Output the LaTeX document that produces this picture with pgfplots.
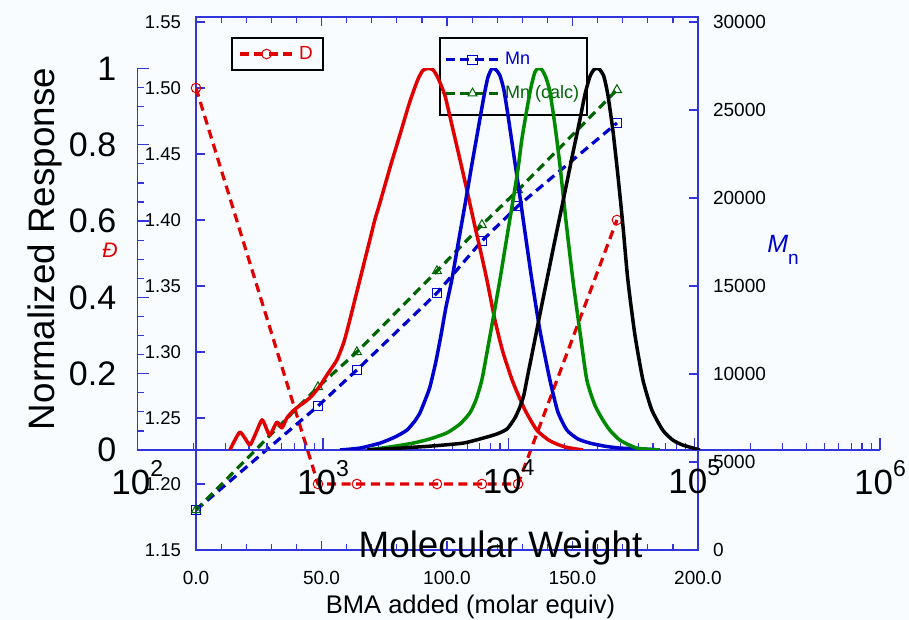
\documentclass[border=0pt]{standalone}
\usepackage{fontspec}
\setmainfont{Liberation Sans}
\usepackage{pgfplots}
\pgfplotsset{compat=1.18}
\pgfkeys{/pgf/number format/assume math mode=true}
\definecolor{bgc}{HTML}{F8FCFF}
\definecolor{axc}{HTML}{3434DC}
\definecolor{gred}{HTML}{E00000}
\definecolor{gblue}{HTML}{0000CC}
\definecolor{ggreen}{HTML}{008A00}
\definecolor{dgreen}{HTML}{006400}
\newcommand{\tenpow}[1]{10\raisebox{9pt}{\fontsize{11.5}{13}\selectfont #1}}

\pgfplotsset{
  frame/.style={axis line style={axc, line width=0.6pt}, every tick/.style={axc, line width=0.6pt},
    tick align=inside, major tick length=4.5pt, minor tick length=3pt, scaled ticks=false},
  leg/.style={legend image code/.code={\draw[mark repeat=2,mark phase=2,##1] plot coordinates {(0pt,0pt) (13.5pt,0pt) (27pt,0pt)};},
    legend cell align=left},
}

\begin{document}
\begin{tikzpicture}
\path[use as bounding box, fill=bgc] (0,0) rectangle (454.5pt,310pt);

% dispersity vs BMA added
\begin{axis}[frame, leg, at={(98pt,35pt)}, anchor=south west, scale only axis, width=251pt, height=266.5pt,
  xmin=0, xmax=200, ymin=1.15, ymax=1.55379,
  xtick={0,50,...,200}, minor x tick num=4, ytick={1.15,1.2,1.25,1.3,1.35,1.4,1.45,1.5,1.55}, ytick pos=left,
  xticklabel={\pgfmathprintnumber[fixed,fixed zerofill,precision=1]{\tick}},
  yticklabel={\pgfmathprintnumber[fixed,fixed zerofill,precision=2]{\tick}},
  x tick label style={font=\fontsize{9.5}{11}\selectfont, yshift=-7pt},
  y tick label style={font=\fontsize{9.25}{11}\selectfont, xshift=-4pt},
  legend style={at={(axis description cs:0.0697,0.9625)}, anchor=north west, draw=black, line width=1pt,
    fill=none, font=\fontsize{9.5}{11}\selectfont, inner xsep=3pt, inner ysep=2pt}]
\addplot[gred, line width=1.6pt, dash pattern=on 4.5pt off 2.8pt, mark=o, mark size=2.4pt,
  mark options={solid, line width=0.5pt}] coordinates {
  (0,1.50) (48.6,1.20) (64.1,1.20) (96.0,1.20) (113.9,1.20) (128.3,1.20) (167.7,1.40)};
\addlegendentry{\textcolor{gred}{D}}
\end{axis}

% Mn vs BMA added
\begin{axis}[frame, leg, at={(98pt,35pt)}, anchor=south west, scale only axis, width=251pt, height=266.5pt,
  xmin=0, xmax=200, ymin=0, ymax=30284, hide x axis, axis y line*=right,
  ytick={0,5000,...,30000},
  yticklabel={\pgfmathprintnumber[fixed,precision=0,1000 sep={}]{\tick}},
  y tick label style={font=\fontsize{9.5}{11}\selectfont, xshift=4pt},
  legend style={at={(axis description cs:0.484,0.9625)}, anchor=north west, draw=black, line width=1pt,
    fill=none, font=\fontsize{9}{11}\selectfont, inner xsep=2pt, inner ysep=5pt, row sep=5pt}]
\addplot[gblue, line width=1.6pt, dash pattern=on 4.5pt off 2.8pt, mark=square, mark size=2.3pt,
  mark options={solid, line width=0.5pt}] coordinates {
  (0,2270) (48.6,8180) (64.1,10230) (96.0,14600) (113.9,17560) (128.3,19550) (167.7,24260)};
\addlegendentry{\textcolor{gblue}{Mn}}
\addplot[dgreen, line width=1.6pt, dash pattern=on 4.5pt off 2.8pt, mark=triangle, mark size=2.6pt,
  mark options={solid, line width=0.5pt}] coordinates {
  (0,2270) (48.6,9260) (64.1,11250) (96.0,15850) (113.9,18470) (128.3,20450) (167.7,26140)};
\addlegendentry{\textcolor{dgreen}{Mn (calc)}}
\end{axis}

% GPC traces, x = log10(molecular weight)
\begin{axis}[frame, at={(68.625pt,85pt)}, anchor=south west, scale only axis, width=371.375pt, height=190.75pt,
  xmin=2, xmax=6, ymin=0, ymax=1, axis x line*=bottom, axis y line*=left,
  axis line style={-}, x axis line style={-}, y axis line style={-},
  xtick={2,3,4,5,6}, xticklabels={\tenpow{2},\tenpow{3},\tenpow{4},\tenpow{5},\tenpow{6}},
  minor xtick={2.301,2.477,2.602,2.699,2.778,2.845,2.903,2.954,
    3.301,3.477,3.602,3.699,3.778,3.845,3.903,3.954,
    4.301,4.477,4.602,4.699,4.778,4.845,4.903,4.954,
    5.301,5.477,5.602,5.699,5.778,5.845,5.903,5.954},
  ytick={0,0.2,0.4,0.6,0.8,1}, minor y tick num=3,
  major tick length=6pt, minor tick length=3.5pt,
  yticklabel={\pgfmathprintnumber{\tick}},
  x tick label style={font=\fontsize{17.5}{20}\selectfont, yshift=-1.5pt},
  y tick label style={font=\fontsize{17}{20}\selectfont, xshift=-7pt},
  every axis plot/.append style={line width=1.75pt, line join=round, smooth, tension=0.35}]
\addplot[gred] table[x=lgM, y=r] {
lgM r
2.499 0
2.526 0.026
2.553 0.047
2.580 0.031
2.607 0.013
2.634 0.039
2.672 0.079
2.699 0.052
2.715 0.039
2.752 0.073
2.779 0.058
2.806 0.084
2.838 0.102
2.871 0.115
2.903 0.126
2.941 0.142
2.984 0.168
3.022 0.197
3.075 0.236
3.113 0.283
3.145 0.341
3.172 0.394
3.199 0.446
3.226 0.499
3.253 0.551
3.280 0.604
3.307 0.648
3.361 0.740
3.415 0.827
3.468 0.913
3.511 0.971
3.538 0.995
3.565 1.000
3.592 0.997
3.619 0.976
3.657 0.929
3.694 0.853
3.738 0.761
3.775 0.682
3.813 0.598
3.845 0.530
3.883 0.446
3.926 0.341
3.969 0.257
4.023 0.178
4.088 0.105
4.152 0.052
4.222 0.024
4.303 0.008
4.400 0
};
\addplot[gblue] table[x=lgM, y=r] {
lgM r
3.092 0
3.199 0.005
3.307 0.018
3.388 0.034
3.452 0.052
3.495 0.076
3.522 0.097
3.549 0.129
3.576 0.165
3.608 0.231
3.635 0.299
3.662 0.373
3.694 0.446
3.727 0.538
3.765 0.643
3.802 0.748
3.840 0.853
3.867 0.927
3.888 0.976
3.910 1.000
3.931 0.997
3.953 0.982
3.974 0.945
3.996 0.879
4.034 0.753
4.061 0.664
4.093 0.554
4.125 0.446
4.168 0.315
4.222 0.184
4.265 0.100
4.314 0.052
4.373 0.029
4.438 0.018
4.518 0.010
4.599 0.005
4.707 0.003
4.814 0
};
\addplot[ggreen] table[x=lgM, y=r] {
lgM r
3.237 0
3.361 0.008
3.485 0.018
3.576 0.029
3.668 0.045
3.738 0.068
3.791 0.097
3.824 0.131
3.856 0.184
3.888 0.268
3.921 0.357
3.953 0.446
3.985 0.541
4.018 0.638
4.050 0.735
4.071 0.814
4.098 0.892
4.120 0.950
4.141 0.990
4.158 1.000
4.179 0.997
4.201 0.976
4.222 0.940
4.249 0.853
4.276 0.748
4.308 0.604
4.346 0.446
4.384 0.310
4.421 0.184
4.464 0.118
4.507 0.079
4.545 0.052
4.599 0.026
4.690 0.005
4.814 0
};
\addplot[black] table[x=lgM, y=r] {
lgM r
3.237 0
3.415 0.005
3.576 0.010
3.754 0.018
3.861 0.031
3.937 0.042
3.991 0.055
4.034 0.084
4.061 0.113
4.082 0.144
4.098 0.184
4.125 0.249
4.152 0.315
4.179 0.381
4.206 0.446
4.249 0.549
4.287 0.638
4.319 0.714
4.351 0.790
4.384 0.866
4.411 0.932
4.438 0.979
4.459 0.997
4.475 1.000
4.491 0.997
4.513 0.979
4.534 0.932
4.561 0.840
4.588 0.722
4.615 0.591
4.642 0.446
4.680 0.302
4.723 0.184
4.771 0.105
4.830 0.052
4.884 0.026
4.938 0.013
5.030 0
};
\end{axis}

\node[rotate=90, font=\fontsize{18.4}{21}\selectfont] at (22.5pt,185.5pt) {Normalized Response};
\node[anchor=base, font=\fontsize{18.4}{21}\selectfont] at (250.25pt,31pt) {Molecular Weight};
\node[anchor=base, font=\fontsize{12.75}{15}\selectfont] at (235.25pt,3pt) {BMA added (molar equiv)};
\node[gred, font=\fontsize{10.5}{12}\selectfont\itshape] at (55pt,185pt) {Đ};
\node[gblue, anchor=base west, inner sep=0pt] at (383.5pt,183.5pt)
  {{\fontsize{12.5}{14}\selectfont\itshape M}\raisebox{-6pt}{\fontsize{9.5}{11}\selectfont n}};
\end{tikzpicture}
\end{document}
